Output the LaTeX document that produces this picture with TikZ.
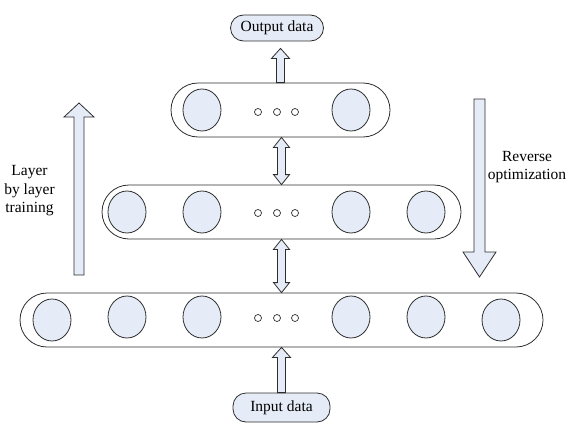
\documentclass[tikz,border=0pt]{standalone}
\usepackage{fontspec}
\setmainfont{Liberation Serif}
\usetikzlibrary{shapes,calc}
\definecolor{unitfill}{RGB}{230,236,247}
\definecolor{linegray}{RGB}{45,45,45}
\tikzstyle{layer}=[draw=linegray,line width=0.8pt,rounded corners=27pt,minimum height=54pt,inner sep=0pt]
\tikzstyle{unit}=[ellipse,draw=linegray,fill=unitfill,line width=0.8pt,minimum width=38pt,minimum height=42pt,inner sep=0pt]
\tikzstyle{dot}=[circle,draw=linegray,line width=0.7pt,minimum size=7pt,inner sep=0pt]
\tikzstyle{io}=[rectangle,rounded corners=13pt,draw=linegray,fill=unitfill,line width=0.8pt,minimum height=26pt,inner sep=2pt]
\tikzstyle{blockarrow}=[draw=linegray,fill=unitfill,line width=0.8pt]

% hollow arrow going up from #1 to #2
\newcommand{\liftarrow}[2]{%
  \path[blockarrow] let \p1=(#1), \p2=(#2) in
    (\x1-4pt,\y1) -- (\x1-4pt,\y2-10pt) -- (\x1-9pt,\y2-10pt) -- (\x1,\y2)
    -- (\x1+9pt,\y2-10pt) -- (\x1+4pt,\y2-10pt) -- (\x1+4pt,\y1) -- cycle;}
% hollow arrow with a head at both ends
\newcommand{\linkarrow}[2]{%
  \path[blockarrow] let \p1=(#1), \p2=(#2) in
    (\x1-4pt,\y1+10pt) -- (\x1-4pt,\y2-10pt) -- (\x1-8pt,\y2-10pt) -- (\x1,\y2)
    -- (\x1+8pt,\y2-10pt) -- (\x1+4pt,\y2-10pt) -- (\x1+4pt,\y1+10pt)
    -- (\x1+8pt,\y1+10pt) -- (\x1,\y1) -- (\x1-8pt,\y1+10pt) -- cycle;}

\begin{document}
\begin{tikzpicture}[x=1pt,y=-1pt,font=\fontsize{15.5}{18.5}\selectfont]
    \useasboundingbox (0,0) rectangle (569,428);

    % The three layers
    \node[layer,minimum width=219pt] (top) at (280.5,110) {};
    \node[layer,minimum width=359pt] (mid) at (281.5,212) {};
    \node[layer,minimum width=523pt] (bot) at (281.5,320) {};

    % Then the units inside them
    \foreach \pos/\name in {{(202,110)/t1}, {(351,110)/t2},
                            {(127,212)/m1}, {(202,212)/m2}, {(351,212)/m3}, {(426,212)/m4},
                            {(52,320)/b1}, {(127,317)/b2}, {(202,317)/b3}, {(351,317)/b4}, {(426,317)/b5}, {(501,320)/b6}}
        \node[unit] (\name) at \pos {};

    % Small dots for the skipped units
    \foreach \y/\name in {112/t, 213/m, 318/b}
        \foreach \x/\k in {258/1, 277/2, 295/3}
            \node[dot] (\name d\k) at (\x,\y) {};

    % Data in and out
    \node[io,minimum width=93pt] (output) at (277,28) {Output data};
    \node[io,minimum width=97pt,minimum height=29pt] (input) at (281.5,407.5) {Input data};
    \coordinate (outgap) at ([yshift=-7pt]output.south);

    % Arrows between the layers
    \liftarrow{top.north}{outgap}
    \linkarrow{mid.north}{top.south}
    \linkarrow{bot.north}{mid.south}
    \liftarrow{input.north}{bot.south}

    % Big arrows at the sides
    \filldraw[blockarrow] (74,275) -- (74,117) -- (64,117) -- (79,103) -- (94,117) -- (84,117) -- (84,275) -- cycle;
    \filldraw[blockarrow] (474,99) -- (474,252) -- (463,252) -- (479.5,277) -- (496,252) -- (485,252) -- (485,99) -- cycle;

    \node[align=center] (climb) at (29.5,191) {Layer\\by layer\\training};
    \node[align=center] (descend) at (527,167) {Reverse\\optimization};
\end{tikzpicture}
\end{document}
